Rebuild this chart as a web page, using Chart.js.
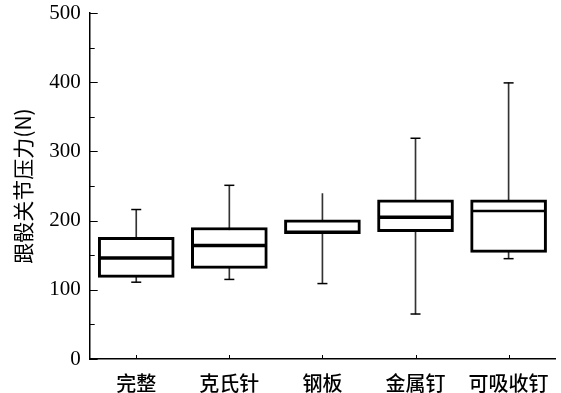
<!DOCTYPE html>
<html><head><meta charset="utf-8">
<script src="https://cdn.jsdelivr.net/npm/chart.js@4"></script>
<style>html,body{margin:0;padding:0;background:#fff}#wrap{width:561px;height:393px}</style>
</head><body><div id="wrap"><canvas id="c"></canvas></div>
<script>
const categories = ['完整', '克氏针', '钢板', '金属钉', '可吸收钉'];
const whiskerMin = [111, 115, 109, 65, 145];
const q1 = [118, 131, 181, 184, 154];
const median = [146, 164, 183, 205, 214];
const q3 = [176, 190, 201, 230, 230];
const whiskerMax = [216, 251, 239, 319, 399];
const yTickValues = [0, 100, 200, 300, 400, 500];
const yMinorValues = [50, 150, 250, 350, 450];

const axisTicks = {
  id: 'axisTicks',
  afterDraw(chart) {
    const {ctx, chartArea, scales: {x, y}} = chart;
    ctx.save();
    ctx.strokeStyle = '#000';
    ctx.lineWidth = 1;
    const left = chartArea.left;
    yTickValues.forEach(v => {
      const py = Math.round(y.getPixelForValue(v)) + 0.5;
      ctx.beginPath(); ctx.moveTo(left, py); ctx.lineTo(left + 8, py); ctx.stroke();
    });
    yMinorValues.forEach(v => {
      const py = Math.round(y.getPixelForValue(v)) + 0.5;
      ctx.beginPath(); ctx.moveTo(left, py); ctx.lineTo(left + 5, py); ctx.stroke();
    });
    categories.forEach((c, i) => {
      const px = Math.round(x.getPixelForValue(i)) + 0.5;
      ctx.beginPath(); ctx.moveTo(px, chartArea.bottom); ctx.lineTo(px, chartArea.bottom - 4); ctx.stroke();
    });
    ctx.restore();
  }
};

new Chart(document.getElementById('c'), {
  type: 'bar',
  data: {
    labels: categories,
    datasets: [
      {
        type: 'bar',
        data: categories.map((_, i) => [whiskerMin[i], whiskerMax[i]]),
        backgroundColor: '#333',
        barThickness: 1,
        grouped: false,
        order: 3
      },
      {
        type: 'bar',
        data: categories.map((_, i) => [q1[i], q3[i]]),
        backgroundColor: '#fff',
        borderColor: '#000',
        borderWidth: 3,
        borderSkipped: false,
        barThickness: 76,
        grouped: false,
        order: 2
      },
      {
        type: 'line',
        data: median,
        showLine: false,
        pointStyle: 'line',
        pointRadius: 37,
        pointBorderWidth: [3.5, 3.5, 3.5, 3.5, 2.5],
        pointBorderColor: '#000',
        clip: false,
        order: 1
      },
      {
        type: 'line',
        data: whiskerMax,
        showLine: false,
        pointStyle: 'line',
        pointRadius: [5, 5, 0, 5, 5],
        pointBorderWidth: 1.5,
        pointBorderColor: '#000',
        clip: false,
        order: 1
      },
      {
        type: 'line',
        data: whiskerMin,
        showLine: false,
        pointStyle: 'line',
        pointRadius: 5,
        pointBorderWidth: 1.5,
        pointBorderColor: '#000',
        clip: false,
        order: 1
      }
    ]
  },
  options: {
    responsive: true,
    maintainAspectRatio: false,
    animation: false,
    events: [],
    layout: {autoPadding: false, padding: {left: 10, right: 4, top: 0, bottom: -14}},
    plugins: {legend: {display: false}, tooltip: {enabled: false}},
    scales: {
      x: {
        offset: true,
        grid: {display: false, drawTicks: false},
        border: {display: true, color: '#000', width: 1.5},
        ticks: {color: '#000', padding: 12, maxRotation: 0, minRotation: 0, autoSkip: false,
                font: {family: '"Noto Sans CJK SC"', size: 20, weight: '500'}}
      },
      y: {
        min: 0,
        max: 500,
        grid: {display: false, drawTicks: false},
        border: {display: true, color: '#000', width: 1.5},
        afterBuildTicks: (scale) => { scale.ticks = yTickValues.map(v => ({value: v})); },
        afterFit: (scale) => { scale.paddingTop = 13; },
        ticks: {color: '#000', padding: 9, font: {family: '"Liberation Serif"', size: 21}},
        title: {
          display: true,
          text: '跟骰关节压力(N)',
          color: '#000',
          font: {family: '"Noto Sans CJK SC"', size: 21},
          padding: {top: 0, bottom: 5}
        }
      }
    }
  },
  plugins: [axisTicks]
});
</script>
</body></html>
